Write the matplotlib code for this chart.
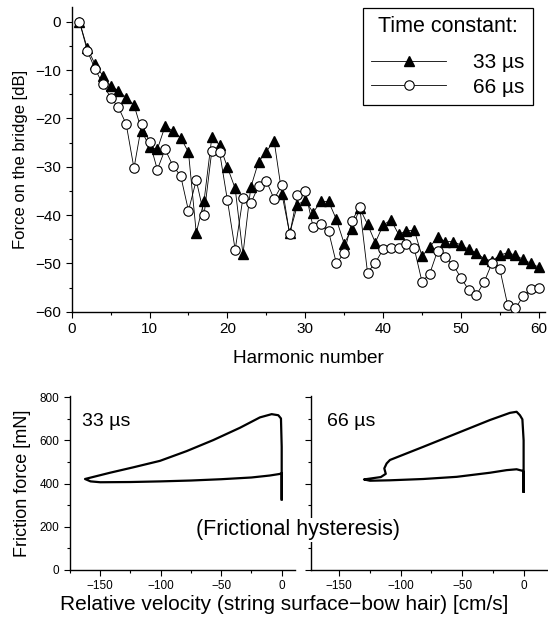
import matplotlib

matplotlib.use("Agg")
import matplotlib.pyplot as plt
from matplotlib.ticker import MultipleLocator

plt.rcParams["font.family"] = ["Liberation Sans", "DejaVu Sans"]

# Harmonic spectra (force on the bridge, dB)
harmonics = list(range(1, 61))
db_33us = [0, -5.5, -8.8, -11.2, -13.3, -14.3, -15.7, -17.2, -22.6, -25.9,
           -26.4, -21.6, -22.6, -24.0, -27.0, -43.7, -37.1, -23.9, -25.5, -30.1,
           -34.5, -48.1, -34.3, -29.0, -26.9, -24.6, -35.6, -43.8, -37.9, -36.9,
           -39.5, -37.2, -37.2, -40.9, -45.9, -42.9, -38.6, -41.9, -45.7, -42.1,
           -41.0, -44.0, -43.3, -43.1, -48.5, -46.6, -44.6, -45.5, -45.5, -46.2,
           -47.1, -47.8, -49.1, -49.5, -48.3, -47.8, -48.3, -49.2, -50.0, -50.8]
db_66us = [0, -6.0, -9.8, -12.9, -15.7, -17.7, -21.2, -30.3, -21.2, -24.8,
           -30.6, -26.4, -29.8, -31.9, -39.1, -32.8, -40.0, -26.7, -27.0, -36.9,
           -47.2, -36.4, -37.6, -34.0, -32.9, -36.7, -33.8, -44.0, -35.9, -35.0,
           -42.4, -41.9, -43.4, -50.0, -47.9, -41.2, -38.3, -51.9, -49.9, -47.1,
           -46.9, -46.9, -45.9, -46.9, -53.8, -52.1, -47.4, -48.7, -50.3, -53.0,
           -55.5, -56.5, -53.8, -49.9, -51.2, -58.6, -59.3, -56.8, -55.3, -55.0]

# Friction hysteresis loops (velocity cm/s, force mN)
vel_33us = [0, 0, -0.6, -2.8, -8.3, -18, -34.5, -56.6, -78.6, -100.6, -122.7,
            -141.9, -162.6, -158, -150, -125, -100, -75, -50, -25, -10, -2, 0, 0]
force_33us = [325, 570, 701, 716, 721, 706, 658, 601, 550, 505, 475,
              450, 421, 410, 406, 407, 410, 414, 420, 428, 437, 444, 447, 330]
vel_66us = [0, 0, -1.0, -3.0, -5.7, -11.1, -27.3, -54.4, -81.5, -108.6, -111.3,
            -113.2, -112.0, -116, -129.7, -124.8, -108.6, -81.5, -54.4, -27.3,
            -13.8, -5.7, -1.0, 0, 0]
force_66us = [362, 600, 697, 716, 732, 727, 694, 632, 570, 509, 493,
              470, 445, 430, 419, 413, 415, 421, 431, 450,
              462, 466, 459, 455, 362]

W, H = 548, 619
fig = plt.figure(figsize=(W / 100, H / 100), dpi=100)


def box(x0, y0, x1, y1):
    return [x0 / W, 1 - y1 / H, (x1 - x0) / W, (y1 - y0) / H]


def style_axes(ax, size):
    for side in ("top", "right"):
        ax.spines[side].set_visible(False)
    for side in ("left", "bottom"):
        ax.spines[side].set_linewidth(1.0)
    ax.tick_params(which="major", direction="out", length=4, width=0.8,
                   labelsize=size)
    ax.tick_params(which="minor", direction="out", length=2.5, width=0.8)


# --- top: spectra ---
ax = fig.add_axes(box(71.7, 6.7, 545, 311.7))
ax.plot(harmonics, db_33us, color="black", lw=0.6, marker="^", ms=7,
        mfc="black", mec="black", label="33 \u00b5s", zorder=3)
ax.plot(harmonics, db_66us, color="black", lw=0.6, marker="o", ms=6.8,
        mfc="white", mec="black", mew=0.8, label="66 \u00b5s", zorder=4)
ax.set_xlim(0, 60.8)
ax.set_ylim(-60, 3.1)
ax.xaxis.set_major_locator(MultipleLocator(10))
ax.xaxis.set_minor_locator(MultipleLocator(5))
ax.yaxis.set_major_locator(MultipleLocator(10))
ax.yaxis.set_minor_locator(MultipleLocator(5))
style_axes(ax, 11)
ax.set_xlabel("Harmonic number", fontsize=13.7, labelpad=10)
ax.set_ylabel("Force on the bridge [dB]", fontsize=12, labelpad=5)
leg = ax.legend(title="Time constant:", loc="upper right",
                bbox_to_anchor=(0.9747, 0.9957), fontsize=15,
                title_fontsize=15.5, numpoints=1, handlelength=3.6,
                handletextpad=1.3, fancybox=False, edgecolor="black",
                framealpha=1, borderpad=0.4, labelspacing=0.25,
                borderaxespad=0)
leg.get_frame().set_linewidth(0.9)
leg._legend_box.sep = 11.5  # extra room below the legend title

# --- bottom: hysteresis loops ---
ax1 = fig.add_axes(box(70, 396, 295, 570))
ax1.plot(vel_33us, force_33us, color="black", lw=1.6)
ax1.set_xlim(-175, 11)
ax1.set_ylim(0, 805)
ax1.xaxis.set_major_locator(MultipleLocator(50))
ax1.xaxis.set_minor_locator(MultipleLocator(25))
ax1.yaxis.set_major_locator(MultipleLocator(200))
ax1.yaxis.set_minor_locator(MultipleLocator(100))
style_axes(ax1, 8.5)
ax1.set_ylabel("Friction force [mN]", fontsize=13, labelpad=6)
ax1.text(0.055, 0.856, "33 \u00b5s", transform=ax1.transAxes, fontsize=14,
         va="center", ha="left")

ax2 = fig.add_axes(box(310.7, 396, 547, 570))
ax2.plot(vel_66us, force_66us, color="black", lw=1.6)
ax2.set_xlim(-173, 19)
ax2.set_ylim(0, 805)
ax2.xaxis.set_major_locator(MultipleLocator(50))
ax2.xaxis.set_minor_locator(MultipleLocator(25))
ax2.yaxis.set_major_locator(MultipleLocator(200))
ax2.yaxis.set_minor_locator(MultipleLocator(100))
style_axes(ax2, 8.5)
ax2.set_yticklabels([])
ax2.text(0.07, 0.856, "66 \u00b5s", transform=ax2.transAxes, fontsize=14,
         va="center", ha="left")

fig.text(298 / W, 1 - 530 / H, "(Frictional hysteresis)", fontsize=15.5,
         ha="center", va="center",
         bbox=dict(facecolor="white", edgecolor="none", pad=1))
fig.text(284 / W, 1 - 604 / H,
         "Relative velocity (string surface\u2212bow hair) [cm/s]",
         fontsize=15, ha="center", va="center")

fig.savefig("out.png", dpi=100)
